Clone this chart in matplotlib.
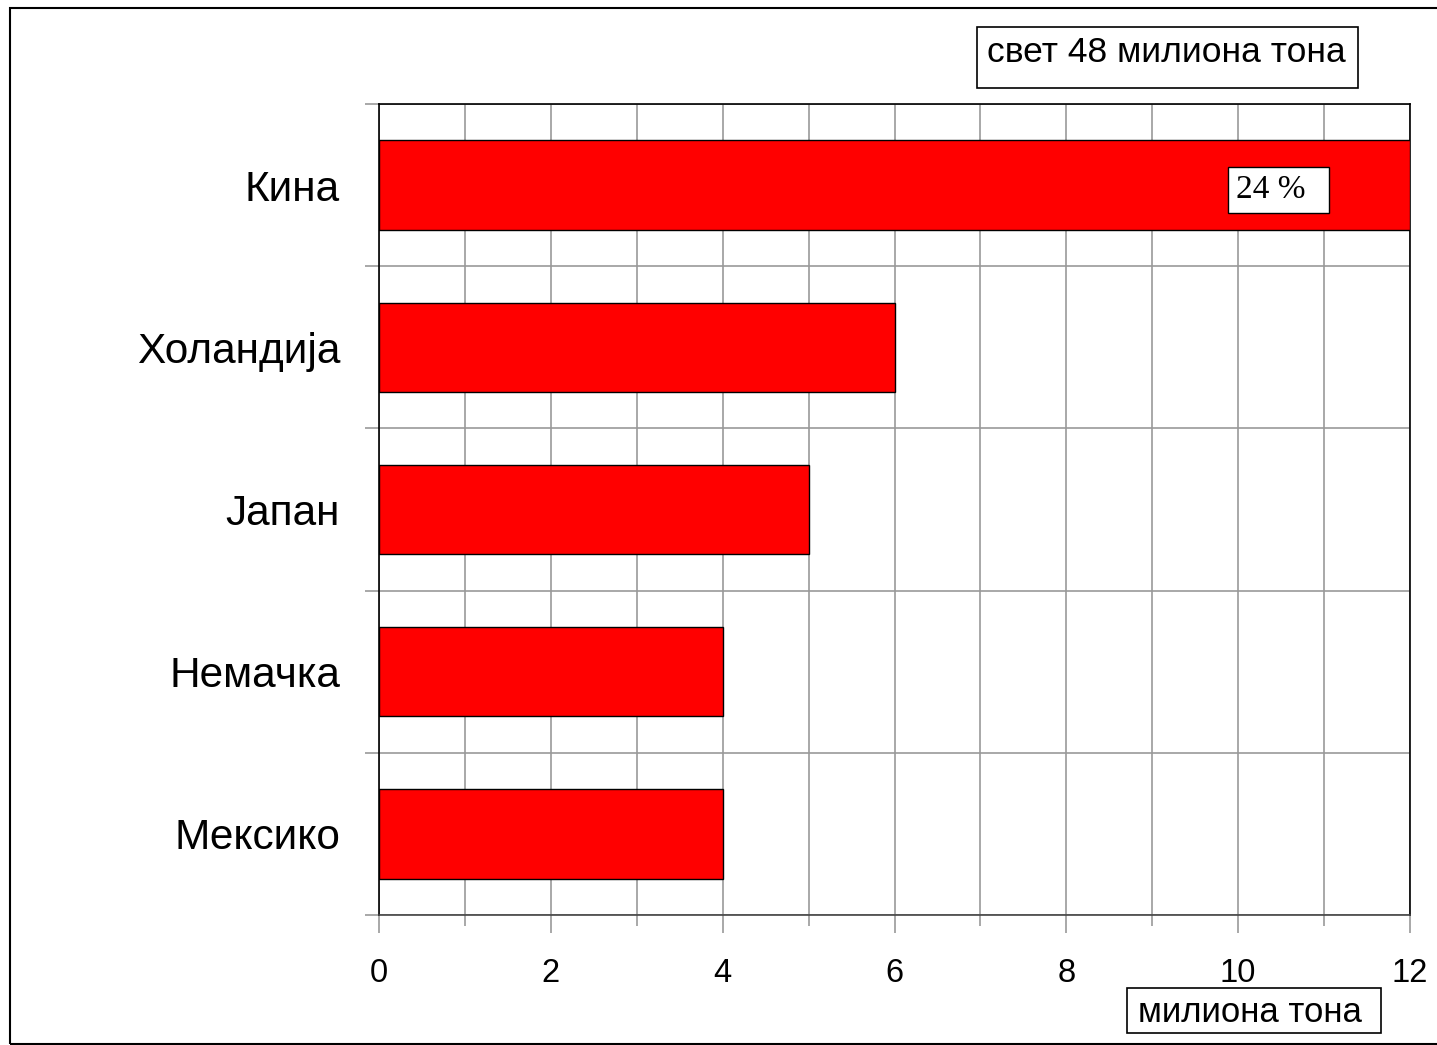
import matplotlib
matplotlib.use("Agg")
import matplotlib.pyplot as plt
from matplotlib.patches import Rectangle
import numpy as np

plt.rcParams['font.family'] = ['Liberation Sans', 'DejaVu Sans']

countries = ["Кина", "Холандија", "Јапан", "Немачка", "Мексико"]
values = [12, 6, 5, 4, 4]
x_major = [0, 2, 4, 6, 8, 10, 12]
x_minor = [1, 3, 5, 7, 9, 11]
share_label = "24 %"
world_label = "свет 48 милиона тона"
unit_label = "милиона тона"

W, H = 1437, 1045
fig = plt.figure(figsize=(W / 100, H / 100), dpi=100)
fig.patch.set_facecolor("white")

# outer border (left, top, bottom; right runs off the canvas)
fig.add_artist(Rectangle((9.5 / W, 1 - 1043.5 / H), 1.2, (1043.5 - 7.5) / H,
                         transform=fig.transFigure, fill=False,
                         edgecolor="black", linewidth=1.5, clip_on=False))

ax = fig.add_axes([379 / W, 1 - 915 / H, (1410 - 379) / W, (915 - 104) / H])
y = np.arange(len(countries))
ax.barh(y, values, height=0.55, color="#ff0000", edgecolor="black",
        linewidth=1, zorder=3)
ax.set_ylim(len(countries) - 0.5, -0.5)
ax.set_xlim(0, 12)

ax.set_yticks(y)
ax.set_yticklabels(countries, fontsize=30.5, color="black")
ax.tick_params(axis="y", which="major", length=0, pad=28)
ax.set_yticks(np.arange(-0.5, len(countries), 1.0), minor=True)
ax.tick_params(axis="y", which="minor", length=10, color="#999999", width=1.2)

ax.set_xticks(x_major)
ax.set_xticklabels([str(v) for v in x_major], fontsize=23.5)
ax.set_xticks(x_minor, minor=True)
ax.tick_params(axis="x", which="major", length=13, color="#999999", width=1.2, pad=18)
ax.tick_params(axis="x", which="minor", length=8, color="#999999", width=1.2)

ax.grid(True, axis="x", which="both", color="#999999", linewidth=1.2, zorder=0)
ax.grid(True, axis="y", which="minor", color="#999999", linewidth=1.2, zorder=0)
ax.grid(False, axis="y", which="major")

for s in ["left", "top", "right"]:
    ax.spines[s].set_color("black")
    ax.spines[s].set_linewidth(1.2)
ax.spines["bottom"].set_color("#444444")
ax.spines["bottom"].set_linewidth(1.2)

# 24 % label inside the China bar
ax.text(9.97, 0.03, share_label + "  ", family=["Liberation Serif", "DejaVu Serif"],
        fontsize=24, va="center", ha="left", zorder=5,
        bbox=dict(boxstyle="square,pad=0.22", facecolor="white", edgecolor="black", linewidth=1))

# world total box
fig.add_artist(Rectangle((977 / W, 1 - 88 / H), (1358 - 977) / W, (88 - 27) / H,
                         transform=fig.transFigure, fill=True, facecolor="white",
                         edgecolor="black", linewidth=1.2))
fig.text(987 / W, 1 - 62 / H, world_label, fontsize=25.5, ha="left", va="baseline")

# unit box
fig.add_artist(Rectangle((1127 / W, 1 - 1033 / H), (1381 - 1127) / W, (1033 - 988) / H,
                         transform=fig.transFigure, fill=True, facecolor="white",
                         edgecolor="black", linewidth=1.2))
fig.text(1250 / W, 1 - 1022 / H, unit_label, fontsize=25, ha="center", va="baseline")

fig.savefig("out.png", dpi=100, facecolor="white")
